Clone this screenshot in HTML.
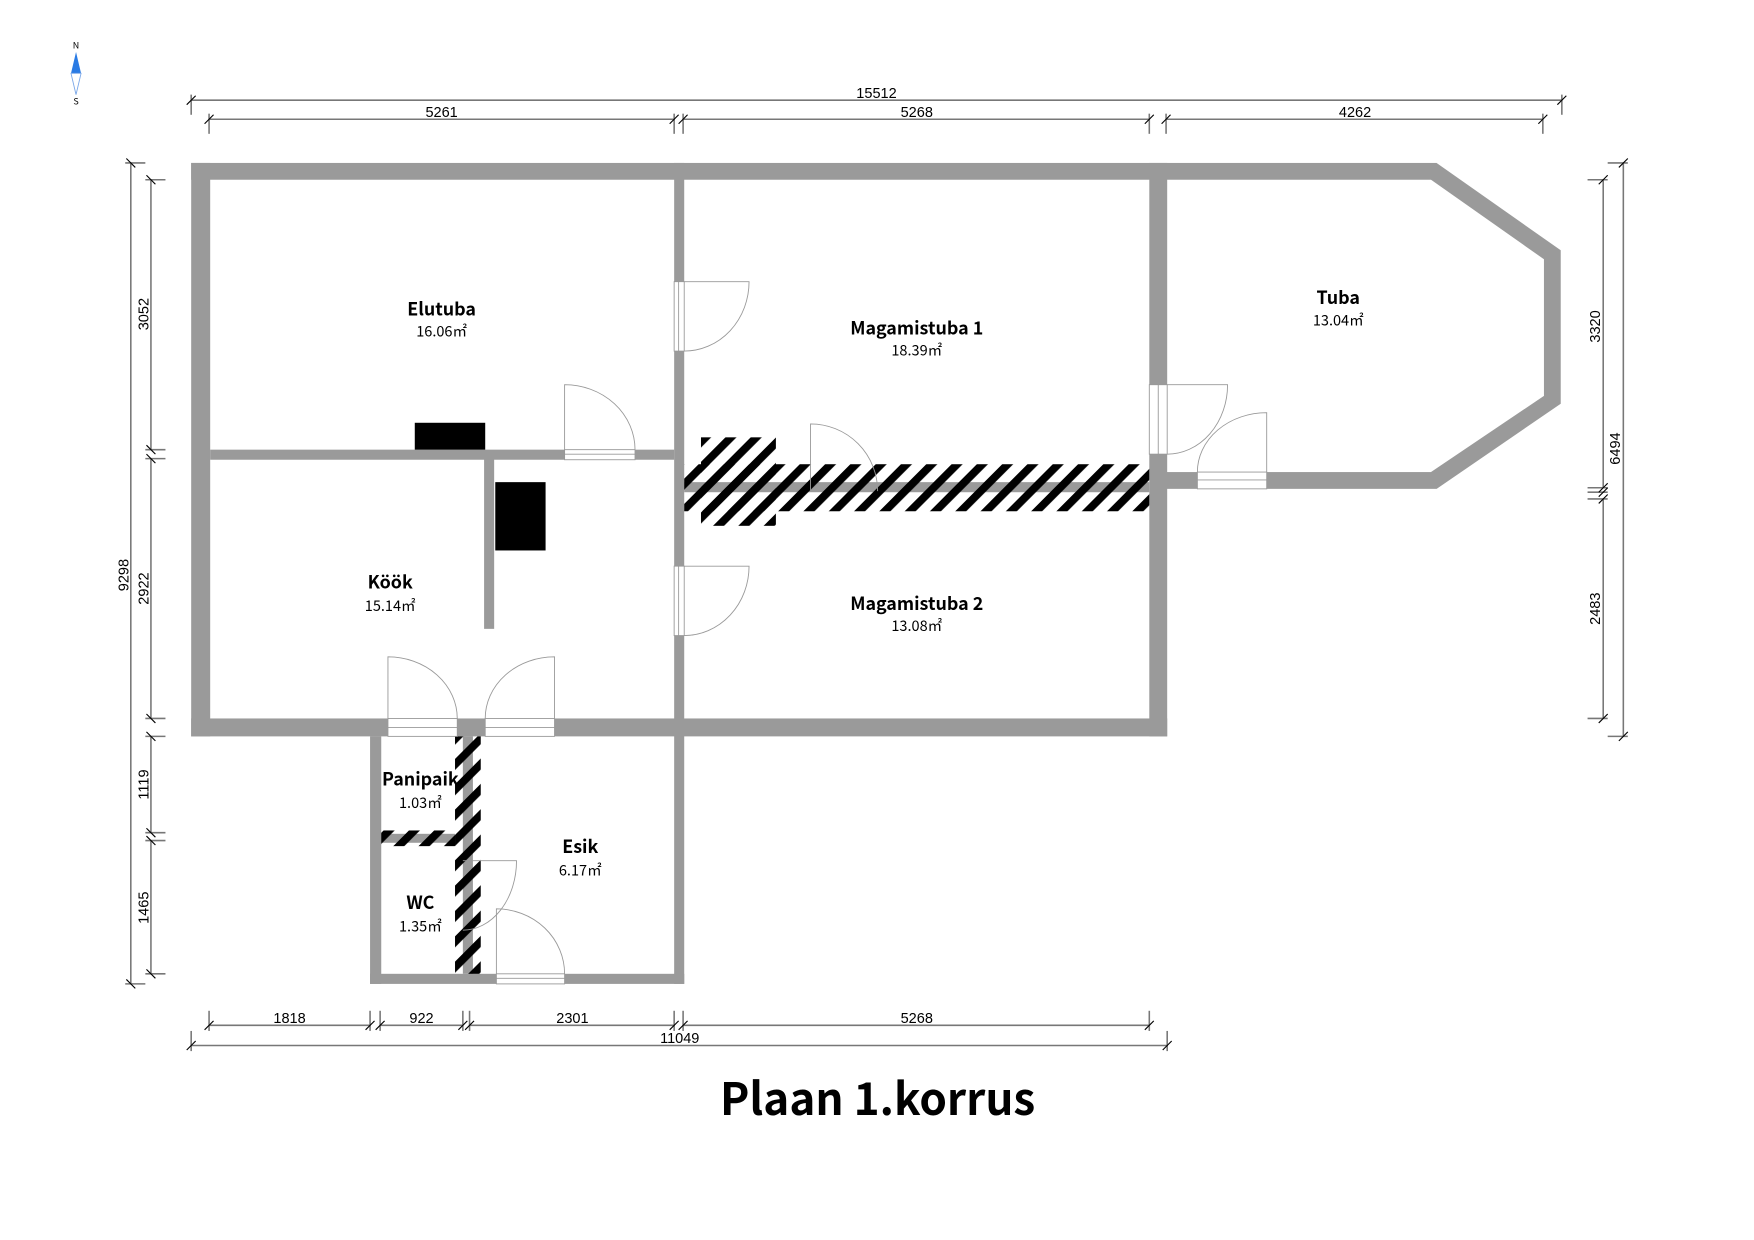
<!DOCTYPE html>
<html><head><meta charset="utf-8"><style>
html,body{margin:0;padding:0;background:#fff;}
svg{display:block;}
text{font-family:"Noto Sans CJK JP","Liberation Sans",sans-serif;fill:#000;}
.rn{font-size:16px;font-weight:700;text-anchor:middle;}
.ra{font-size:13px;text-anchor:middle;}
.dm{font-size:13px;text-anchor:middle;font-family:"Liberation Sans",sans-serif;}
</style></head><body>
<svg width="1754" height="1240" viewBox="0 0 1754 1240" xmlns="http://www.w3.org/2000/svg">
<defs>
<pattern id="h" width="16" height="16" patternUnits="userSpaceOnUse" patternTransform="rotate(45)">
<rect x="0" y="0" width="7" height="16" fill="#000"/>
</pattern>
</defs>
<rect width="1754" height="1240" fill="#fff"/>
<g transform="matrix(1.118 0 0 1.12 0 -1.7)">
<!-- compass -->
<text x="68" y="45" font-size="8" text-anchor="middle" font-family="Liberation Sans,sans-serif">N</text>
<polygon points="68,48 63.5,67 72.5,67" fill="#2a7be4"/>
<polygon points="63.5,67 72.5,67 68,86" fill="#fff" stroke="#7aa7e8" stroke-width="0.8"/>
<text x="68" y="95" font-size="8" text-anchor="middle" font-family="Liberation Sans,sans-serif">S</text>

<!-- walls -->
<g fill="#9a9a9a">
<rect x="171" y="147" width="1114" height="15"/>
<rect x="171" y="147" width="17" height="512"/>
<rect x="171" y="643" width="873" height="16"/>
<rect x="1028" y="147" width="16" height="512"/>
<rect x="1036" y="423" width="249" height="15"/>
<rect x="603" y="147" width="9" height="733"/>
<rect x="188" y="403" width="415" height="9"/>
<rect x="433" y="411" width="9" height="152"/>
<rect x="331" y="659" width="10" height="221"/>
<rect x="331" y="871" width="281" height="9"/>
<polygon points="1285,147 1396,225 1396,362 1285,438 1280,423 1381,355 1381,233 1280,162"/>
<rect x="341" y="746" width="66" height="8"/>
<rect x="414" y="659" width="9" height="212"/>
<rect x="612" y="432" width="416" height="9"/>
</g>
<!-- hatch -->
<rect x="407" y="659" width="23" height="212" fill="url(#h)"/>
<rect x="341" y="743" width="66" height="14" fill="url(#h)"/>
<rect x="612" y="416" width="416" height="42" fill="url(#h)"/>
<rect x="627" y="392" width="67" height="79" fill="url(#h)"/>

<!-- black blocks -->
<rect x="371" y="379" width="63" height="24" fill="#000"/>
<rect x="443" y="432" width="45" height="61" fill="#000"/>

<!-- doors -->
<g fill="#fff" stroke="#999" stroke-width="0.8">
<!-- vertical-wall doors -->
<rect x="603" y="253" width="9" height="62"/><line x1="607" y1="253" x2="607" y2="315"/>
<path d="M612,253 L670,253 A58,62 0 0 1 612,315" fill="none"/>
<rect x="603" y="507" width="9" height="62"/><line x1="607" y1="507" x2="607" y2="569"/>
<path d="M612,507 L670,507 A58,62 0 0 1 612,569" fill="none"/>
<rect x="1028" y="345" width="16" height="62"/><line x1="1036" y1="345" x2="1036" y2="407"/>
<path d="M1044,345 L1098,345 A54,62 0 0 1 1044,407" fill="none"/>
<!-- horizontal-wall doors -->
<rect x="505" y="403" width="63" height="9"/><line x1="505" y1="407" x2="568" y2="407"/>
<path d="M505,403 L505,345 A63,58 0 0 1 568,403" fill="none"/>
<rect x="1071" y="423" width="62" height="15"/><line x1="1071" y1="430" x2="1133" y2="430"/>
<path d="M1133,423 L1133,370 A62,53 0 0 0 1071,423" fill="none"/>
<rect x="347" y="643" width="62" height="16"/><line x1="347" y1="651" x2="409" y2="651"/>
<path d="M347,643 L347,588 A62,55 0 0 1 409,643" fill="none"/>
<rect x="434" y="643" width="62" height="16"/><line x1="434" y1="651" x2="496" y2="651"/>
<path d="M496,643 L496,588 A62,55 0 0 0 434,643" fill="none"/>
<rect x="444" y="871" width="61" height="9"/><line x1="444" y1="875" x2="505" y2="875"/>
<path d="M444,871 L444,813 A61,58 0 0 1 505,871" fill="none"/>
<path d="M725,440 L725,380 A60,60 0 0 1 785,440" fill="none"/>
<path d="M414,770 L462,770 A48,62 0 0 1 414,832" fill="none"/>
</g>

<!-- room labels -->
<text class="rn" x="395" y="283">Elutuba</text><text class="ra" x="395" y="302">16.06㎡</text>
<text class="rn" x="820" y="300">Magamistuba 1</text><text class="ra" x="820" y="319">18.39㎡</text>
<text class="rn" x="1197" y="273">Tuba</text><text class="ra" x="1197" y="292">13.04㎡</text>
<text class="rn" x="349" y="527">Köök</text><text class="ra" x="349" y="547">15.14㎡</text>
<text class="rn" x="820" y="546">Magamistuba 2</text><text class="ra" x="820" y="565">13.08㎡</text>
<text class="rn" x="376" y="703">Panipaik</text><text class="ra" x="376" y="723">1.03㎡</text>
<text class="rn" x="519" y="763">Esik</text><text class="ra" x="519" y="783">6.17㎡</text>
<text class="rn" x="376" y="813">WC</text><text class="ra" x="376" y="833">1.35㎡</text>

<!-- dimension lines -->
<g stroke="#777" stroke-width="1.4" fill="none">
<line x1="171" y1="91" x2="1397" y2="91"/>
<line x1="171" y1="86" x2="171" y2="104"/><line x1="1397" y1="86" x2="1397" y2="104"/>
<line x1="187" y1="108" x2="603" y2="108"/><line x1="611" y1="108" x2="1028" y2="108"/><line x1="1043" y1="108" x2="1380" y2="108"/>
<line x1="187" y1="103" x2="187" y2="121"/><line x1="603" y1="103" x2="603" y2="121"/><line x1="611" y1="103" x2="611" y2="121"/><line x1="1028" y1="103" x2="1028" y2="121"/><line x1="1043" y1="103" x2="1043" y2="121"/><line x1="1380" y1="103" x2="1380" y2="121"/>
<line x1="117" y1="147" x2="117" y2="880"/>
<line x1="112" y1="147" x2="130" y2="147"/><line x1="112" y1="880" x2="130" y2="880"/>
<line x1="135" y1="162" x2="135" y2="403"/><line x1="135" y1="411" x2="135" y2="643"/><line x1="135" y1="659" x2="135" y2="745"/><line x1="135" y1="752" x2="135" y2="871"/>
<line x1="130" y1="162" x2="148" y2="162"/><line x1="130" y1="403" x2="148" y2="403"/><line x1="130" y1="411" x2="148" y2="411"/><line x1="130" y1="643" x2="148" y2="643"/><line x1="130" y1="659" x2="148" y2="659"/><line x1="130" y1="745" x2="148" y2="745"/><line x1="130" y1="752" x2="148" y2="752"/><line x1="130" y1="871" x2="148" y2="871"/>
<line x1="1452" y1="147" x2="1452" y2="659"/>
<line x1="1438" y1="147" x2="1456" y2="147"/><line x1="1438" y1="659" x2="1456" y2="659"/>
<line x1="1434" y1="162" x2="1434" y2="437"/><line x1="1434" y1="447" x2="1434" y2="643"/>
<line x1="1420" y1="162" x2="1438" y2="162"/><line x1="1420" y1="437" x2="1438" y2="437"/><line x1="1420" y1="441" x2="1438" y2="441"/><line x1="1420" y1="447" x2="1438" y2="447"/><line x1="1420" y1="643" x2="1438" y2="643"/>
<line x1="187" y1="917" x2="331" y2="917"/><line x1="340" y1="917" x2="414" y2="917"/><line x1="420" y1="917" x2="603" y2="917"/><line x1="611" y1="917" x2="1028" y2="917"/>
<line x1="187" y1="904" x2="187" y2="922"/><line x1="331" y1="904" x2="331" y2="922"/><line x1="340" y1="904" x2="340" y2="922"/><line x1="414" y1="904" x2="414" y2="922"/><line x1="420" y1="904" x2="420" y2="922"/><line x1="603" y1="904" x2="603" y2="922"/><line x1="611" y1="904" x2="611" y2="922"/><line x1="1028" y1="904" x2="1028" y2="922"/>
<line x1="171" y1="935" x2="1044" y2="935"/>
<line x1="171" y1="922" x2="171" y2="940"/><line x1="1044" y1="922" x2="1044" y2="940"/>
</g>
<g stroke="#000" stroke-width="1">
<line x1="167" y1="95" x2="175" y2="87"/><line x1="1393" y1="95" x2="1401" y2="87"/>
<line x1="183" y1="112" x2="191" y2="104"/><line x1="599" y1="112" x2="607" y2="104"/><line x1="607" y1="112" x2="615" y2="104"/><line x1="1024" y1="112" x2="1032" y2="104"/><line x1="1039" y1="112" x2="1047" y2="104"/><line x1="1376" y1="112" x2="1384" y2="104"/>
<line x1="113" y1="143" x2="121" y2="151"/><line x1="113" y1="876" x2="121" y2="884"/>
<line x1="131" y1="158" x2="139" y2="166"/><line x1="131" y1="399" x2="139" y2="407"/><line x1="131" y1="407" x2="139" y2="415"/><line x1="131" y1="639" x2="139" y2="647"/><line x1="131" y1="655" x2="139" y2="663"/><line x1="131" y1="741" x2="139" y2="749"/><line x1="131" y1="748" x2="139" y2="756"/><line x1="131" y1="867" x2="139" y2="875"/>
<line x1="1448" y1="151" x2="1456" y2="143"/><line x1="1448" y1="663" x2="1456" y2="655"/>
<line x1="1430" y1="166" x2="1438" y2="158"/><line x1="1430" y1="441" x2="1438" y2="433"/><line x1="1430" y1="445" x2="1438" y2="437"/><line x1="1430" y1="451" x2="1438" y2="443"/><line x1="1430" y1="647" x2="1438" y2="639"/>
<line x1="183" y1="921" x2="191" y2="913"/><line x1="327" y1="921" x2="335" y2="913"/><line x1="336" y1="921" x2="344" y2="913"/><line x1="410" y1="921" x2="418" y2="913"/><line x1="416" y1="921" x2="424" y2="913"/><line x1="599" y1="921" x2="607" y2="913"/><line x1="607" y1="921" x2="615" y2="913"/><line x1="1024" y1="921" x2="1032" y2="913"/>
<line x1="167" y1="939" x2="175" y2="931"/><line x1="1040" y1="939" x2="1048" y2="931"/>
</g>
<text class="dm" x="784" y="89">15512</text>
<text class="dm" x="395" y="106">5261</text><text class="dm" x="820" y="106">5268</text><text class="dm" x="1212" y="106">4262</text>
<text class="dm" x="259" y="915">1818</text><text class="dm" x="377" y="915">922</text><text class="dm" x="512" y="915">2301</text><text class="dm" x="820" y="915">5268</text>
<text class="dm" x="608" y="933">11049</text>
<text class="dm" transform="translate(115,515) rotate(-90)">9298</text>
<text class="dm" transform="translate(133,282) rotate(-90)">3052</text>
<text class="dm" transform="translate(133,527) rotate(-90)">2922</text>
<text class="dm" transform="translate(133,702) rotate(-90)">1119</text>
<text class="dm" transform="translate(133,812) rotate(-90)">1465</text>
<text class="dm" transform="translate(1431,293) rotate(-90)">3320</text>
<text class="dm" transform="translate(1431,545) rotate(-90)">2483</text>
<text class="dm" transform="translate(1449,402) rotate(-90)">6494</text>

<text x="785" y="997" font-size="40" font-weight="700" text-anchor="middle" textLength="282" lengthAdjust="spacingAndGlyphs">Plaan 1.korrus</text>
</g>
</svg>
</body></html>
